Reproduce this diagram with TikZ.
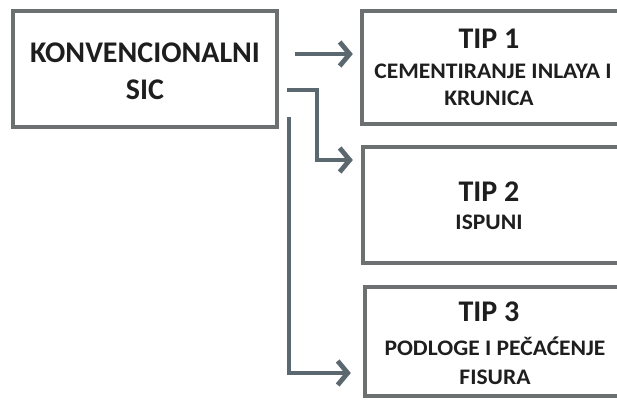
\documentclass[tikz,border=0pt]{standalone}
\usepackage{fontspec}
\setmainfont{Carlito}
\newfontfamily\widefont[FakeStretch=1.06]{Carlito}
\usetikzlibrary{arrows.meta,calc}
\definecolor{boxline}{HTML}{6C7071}
\definecolor{connline}{HTML}{5C6870}
\definecolor{ink}{HTML}{1E1E1E}
\tikzset{
  x=1pt, y=-1pt,
  box/.style={draw=boxline, line width=3.6pt, fill=white, inner sep=0pt, rectangle},
  openbox/.style={inner sep=0pt, rectangle},
  boxedge/.style={draw=boxline, line width=3.6pt, line join=miter},
  bigtxt/.style={anchor=base, inner sep=0pt, text=ink, font=\fontsize{30}{34}\selectfont\bfseries},
  smalltxt/.style={anchor=base, inner sep=0pt, text=ink, font=\widefont\fontsize{22.2}{24}\selectfont\bfseries},
  conn/.style={draw=connline, line width=4.2pt, line join=miter,
    -{Straight Barb[length=10pt,width=24pt,line width=4.8pt]}}
}
\begin{document}
\begin{tikzpicture}
\useasboundingbox (0,0) rectangle (617,399);
\clip (0,0) rectangle (617,399);
\fill[white] (0,0) rectangle (617,399);

% source box
\node[box, minimum width=264pt, minimum height=116pt] (main) at (145,69) {};
% the three type boxes run on past the right edge of the page
\node[openbox, minimum width=340pt, minimum height=113pt] (box1) at (532,67.5) {};
\node[openbox, minimum width=340pt, minimum height=116pt] (box2) at (533,205) {};
\node[openbox, minimum width=340pt, minimum height=109pt] (box3) at (535,341.5) {};
\foreach \b in {box1,box2,box3}
  \draw[boxedge] (\b.north east) -| (\b.south west) -- (\b.south east);

% labels
\node[bigtxt] (m1) at (145,62) {KONVENCIONALNI};
\node[bigtxt] (m2) at (145,99) {SIC};

\node[bigtxt] (t1a) at (489,48) {TIP 1};
\node[smalltxt] (t1b) at (493,78) {CEMENTIRANJE INLAYA I};
\node[smalltxt] (t1c) at (489,105) {KRUNICA};

\node[bigtxt] (t2a) at (489,201) {TIP 2};
\node[smalltxt] (t2b) at (489,229) {ISPUNI};

\node[bigtxt] (t3a) at (489,321) {TIP 3};
\node[smalltxt] (t3b) at (495,355) {PODLOGE I PEČAĆENJE};
\node[smalltxt] (t3c) at (495,384) {FISURA};

% connectors
\draw[conn] ($(main.east |- 0,54)+(16,0)$) -- ($(box1.west |- 0,54)+(-9,0)$);
\draw[conn] ($(main.east |- 0,90)+(8,0)$) -| (317,160) -- ($(box2.west |- 0,160)+(-10,0)$);
\draw[conn] (289,117) |- ($(box3.west |- 0,373)+(-14,0)$);
\end{tikzpicture}
\end{document}
